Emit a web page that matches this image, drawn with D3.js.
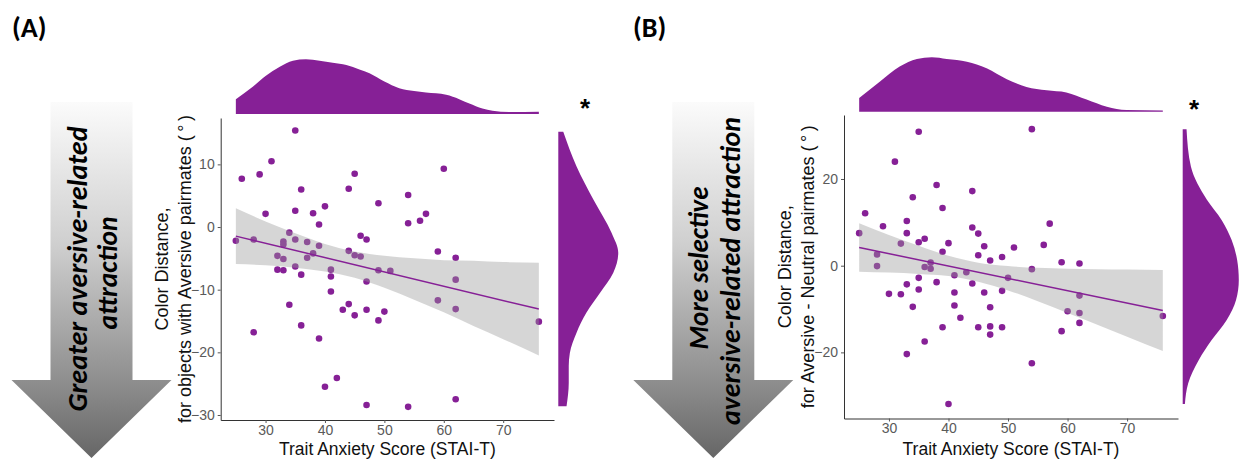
<!DOCTYPE html>
<html>
<head>
<meta charset="utf-8">
<script src="https://cdn.jsdelivr.net/npm/d3@7"></script>
<style>
  body { margin: 0; background: #fff; }
  svg { display: block; }
</style>
</head>
<body>
<div id="chart"></div>
<script>
// tick labels
const xTicks = [30, 40, 50, 60, 70];
const yTicksA = [-30, -20, -10, 0, 10];
const yTicksB = [-20, 0, 20];

// (A) trait anxiety vs colour distance for aversive pairmates
const anxietyA = [25, 26, 28, 28, 29, 30, 31, 32, 32, 33, 33, 33, 33, 34, 34, 35, 35, 35, 35, 36, 36, 36, 37, 37, 38, 38, 39, 39, 39, 40, 40, 41, 41, 41, 42, 43, 44, 44, 44, 45, 45, 45, 46, 46, 47, 47, 47, 47, 49, 49, 49, 50, 51, 54, 54, 54, 56, 57, 59, 59, 60, 62, 62, 62, 62, 76];
const distA = [-2.2, 7.7, -2.0, -16.8, 8.4, 2.1, 10.5, -4.6, -6.8, -2.3, -2.8, -5.1, -6.9, -0.9, -12.4, 15.4, 2.6, -2.0, -6.3, 6.0, -7.6, -15.7, -2.4, -4.9, 2.2, -4.2, 0.4, -3.0, -17.8, 3.3, -25.5, -6.8, -7.9, -10.3, -24.1, -13.2, 6.1, -3.8, -12.3, 8.5, -4.5, -14.1, -1.4, -4.7, -2.0, -8.7, -13.2, -28.4, 3.8, -6.9, -14.9, -13.5, -7.0, 5.1, 0.6, -28.7, 1.0, 2.1, -3.9, -11.7, 9.3, -4.9, -8.4, -13.1, -27.5, -15.1];

// (B) trait anxiety vs aversive - neutral colour distance
const anxietyB = [25, 26, 28, 28, 29, 30, 31, 32, 32, 33, 33, 33, 33, 34, 34, 35, 35, 35, 35, 36, 36, 36, 37, 37, 38, 38, 39, 39, 39, 40, 40, 41, 41, 41, 42, 43, 44, 44, 44, 45, 45, 45, 46, 46, 47, 47, 47, 47, 49, 49, 49, 50, 51, 54, 54, 54, 56, 57, 59, 59, 60, 62, 62, 62, 62, 76];
const distB = [7.5, 12.1, 2.6, -0.1, 9.1, -6.5, 24.0, 5.1, -6.6, 10.3, 7.5, -4.3, -20.4, 15.8, -9.5, 30.9, 5.4, -2.8, -5.5, 6.2, -0.3, -17.5, 0.7, -0.7, 18.6, -3.8, 13.3, 3.2, -14.2, 5.2, -31.9, -2.2, -6.2, -9.2, -12.0, -1.5, 17.2, 8.8, -4.1, 7.4, 2.4, -14.2, 4.5, -6.2, 1.2, -9.6, -14.0, -15.9, 2.0, -5.8, -14.2, -2.8, 4.2, 31.5, -0.8, -22.5, 4.8, 9.7, 0.8, -15.1, -10.5, 0.5, -6.9, -10.9, -13.2, -11.6];

// linear fit and 95% band
const fitX = [25, 76];
const fitA = [-1.45, -13.1];
const fitB = [4.2, -10.35];
const bandX = [25, 30, 35, 40, 45, 50, 55, 60, 65, 70, 76];
const bandHiA = [3.0, 0.9, -1.0, -2.7, -3.9, -4.6, -5.0, -5.3, -5.4, -5.6, -5.7];
const bandLoA = [-5.9, -6.1, -6.5, -7.1, -8.1, -9.7, -11.6, -13.6, -15.8, -17.9, -20.5];
const bandHiB = [9.8, 7.1, 4.6, 2.3, 0.7, -0.1, -0.5, -0.7, -0.8, -0.9, -1.0];
const bandLoB = [-1.4, -1.6, -1.9, -2.4, -3.7, -5.7, -8.2, -10.9, -13.6, -16.4, -19.7];

// marginal densities (relative height)
const topDensXA = [25, 27.9, 30, 32.4, 34.6, 36.8, 39.1, 41.3, 43.6, 45.8, 47.5, 50, 52.5, 55, 57, 60.4, 62.6, 64.3, 66.5, 68.2, 71, 76];
const topDensA = [0.27, 0.50, 0.69, 0.86, 0.97, 0.995, 0.97, 0.93, 0.89, 0.81, 0.74, 0.59, 0.47, 0.42, 0.39, 0.35, 0.27, 0.19, 0.10, 0.06, 0.036, 0.042];
const topDensXB = [25, 28.5, 31.8, 34.7, 37.2, 39.7, 43.1, 46.4, 49.8, 53.1, 56.5, 59.8, 63.2, 66.6, 69.9, 76];
const topDensB = [0.25, 0.55, 0.82, 0.96, 0.99, 0.96, 0.91, 0.79, 0.59, 0.45, 0.39, 0.35, 0.22, 0.09, 0.03, 0.024];
const sideDensYA = [15.2, 9.7, 4.35, -0.96, -4.1, -7.3, -10.5, -13.7, -16.9, -20.1, -22.2, -24.9, -28.6];
const sideDensA = [0.09, 0.33, 0.64, 0.97, 1.09, 1.0, 0.76, 0.51, 0.33, 0.21, 0.19, 0.19, 0.15];
const sideDensYB = [31.5, 22.8, 15.2, 10.5, 5.9, 1.3, -3.3, -7.9, -12.5, -17.1, -21.8, -27.1, -31.9];
const sideDensB = [0.07, 0.15, 0.44, 0.71, 0.89, 0.99, 1.02, 0.97, 0.80, 0.53, 0.29, 0.10, 0.04];

const purple = '#862096';
const W = 1239, H = 459;

const svg = d3.select('#chart').append('svg')
  .attr('width', W).attr('height', H)
  .style('font-family', '"Liberation Sans", Arial, sans-serif');

svg.append('rect').attr('width', W).attr('height', H).attr('fill', '#fff');

const defs = svg.append('defs');
const grad = defs.append('linearGradient')
  .attr('id', 'arrowGrad')
  .attr('x1', 0).attr('y1', 0).attr('x2', 0).attr('y2', 1);
grad.append('stop').attr('offset', 0).attr('stop-color', '#fbfbfb');
grad.append('stop').attr('offset', 0.4).attr('stop-color', '#cfcfcf');
grad.append('stop').attr('offset', 0.78).attr('stop-color', '#8f8f8f');
grad.append('stop').attr('offset', 1).attr('stop-color', '#666');

function drawArrow(cx, lines) {
  const top = 102, neck = 380, tip = 458, sw = 41, hw = 80;
  svg.append('path')
    .attr('d', `M${cx - sw},${top}H${cx + sw}V${neck}H${cx + hw}L${cx},${tip}L${cx - hw},${neck}H${cx - sw}Z`)
    .attr('fill', 'url(#arrowGrad)');
  lines.forEach(l => {
    svg.append('text')
      .attr('transform', `translate(${l.x},${l.y}) rotate(-90)`)
      .attr('text-anchor', 'middle')
      .attr('textLength', l.len)
      .attr('lengthAdjust', 'spacingAndGlyphs')
      .style('font-family', 'Carlito, Lato, "Open Sans", sans-serif')
      .style('font-weight', 'bold')
      .style('font-style', 'italic')
      .style('font-size', '28px')
      .attr('fill', '#000')
      .text(l.text);
  });
}

function drawPanel(p) {
  const x = d3.scaleLinear().domain([22.45, 78.55]).range([p.left, p.right]);
  const y = d3.scaleLinear().domain(p.yDomain).range([p.bottom, p.top]);
  const pts = p.xs.map((v, i) => [v, p.ys[i]]);

  // marginal densities
  const h = d3.scaleLinear().domain([0, 1]).range([0, 55]);
  const topData = p.topX.map((v, i) => [v, p.topD[i]]);
  svg.append('path')
    .datum(topData)
    .attr('fill', purple)
    .attr('d', d3.area().curve(d3.curveMonotoneX)
      .x(d => x(d[0])).y0(p.topBase).y1(d => p.topBase - h(d[1])));
  const sideData = p.sideY.map((v, i) => [v, p.sideD[i]]);
  svg.append('path')
    .datum(sideData)
    .attr('fill', purple)
    .attr('d', d3.area().curve(d3.curveMonotoneY)
      .y(d => y(d[0])).x0(p.sideBase).x1(d => p.sideBase + h(d[1])));

  // points
  svg.append('g').selectAll('circle')
    .data(pts)
    .enter()
    .append('circle')
    .attr('cx', d => x(d[0]))
    .attr('cy', d => y(d[1]))
    .attr('r', 3.3)
    .attr('fill', purple);

  // confidence band over the points, as geom_smooth does
  const band = bandX.map((v, i) => [v, p.bandHi[i], p.bandLo[i]]);
  svg.append('path')
    .datum(band)
    .attr('fill', '#999')
    .attr('fill-opacity', 0.4)
    .attr('d', d3.area().curve(d3.curveMonotoneX)
      .x(d => x(d[0])).y0(d => y(d[2])).y1(d => y(d[1])));
  svg.append('path')
    .datum(fitX.map((v, i) => [v, p.fit[i]]))
    .attr('fill', 'none')
    .attr('stroke', purple)
    .attr('stroke-width', 1.5)
    .attr('d', d3.line().x(d => x(d[0])).y(d => y(d[1])));

  // axes
  const gx = svg.append('g')
    .attr('transform', `translate(0,${p.bottom})`)
    .call(d3.axisBottom(x).tickValues(xTicks).tickSize(3).tickSizeOuter(0).tickPadding(2));
  const gy = svg.append('g')
    .attr('transform', `translate(${p.left},0)`)
    .call(d3.axisLeft(y).tickValues(p.yTicks).tickSize(3).tickSizeOuter(0).tickPadding(3));
  [gx, gy].forEach(g => {
    g.select('.domain').attr('stroke', '#333').attr('stroke-width', 1);
    g.selectAll('.tick line').attr('stroke', '#555');
    g.selectAll('.tick text')
      .attr('fill', '#5a5a5a')
      .style('font-size', '14px')
      .style('font-family', '"Liberation Sans", Arial, sans-serif');
  });

  // axis titles
  svg.append('text')
    .attr('x', (p.left + p.right) / 2)
    .attr('y', 454.5)
    .attr('text-anchor', 'middle')
    .style('font-size', '17.5px')
    .attr('fill', '#111')
    .text('Trait Anxiety Score (STAI-T)');
  const cy = (p.top + p.bottom) / 2;
  p.yTitle.forEach((t, i) => {
    svg.append('text')
      .attr('transform', `translate(${p.left - (i === 0 ? 53 : 30)},${cy}) rotate(-90)`)
      .attr('text-anchor', 'middle')
      .style('font-size', '18px')
      .attr('fill', '#111')
      .text(t);
  });

  // significance star
  svg.append('text')
    .attr('x', p.star[0]).attr('y', p.star[1])
    .attr('text-anchor', 'middle')
    .style('font-size', '26px')
    .style('font-weight', 'bold')
    .attr('fill', '#000')
    .text('*');

  // panel label
  svg.append('text')
    .attr('x', p.label[0]).attr('y', 37)
    .style('font-family', 'Carlito, Lato, "Open Sans", sans-serif')
    .style('font-weight', 'bold')
    .style('font-size', '28px')
    .attr('fill', '#000')
    .text(p.label[1]);
}

drawArrow(91.5, [
  {x: 87, y: 269, len: 285, text: 'Greater aversive-related'},
  {x: 117, y: 273, len: 113, text: 'attraction'}
]);
drawArrow(713.3, [
  {x: 708, y: 268, len: 163, text: 'More selective'},
  {x: 740, y: 271, len: 308, text: 'aversive-related attraction'}
]);

drawPanel({
  left: 220.7, right: 554, top: 118, bottom: 420,
  yDomain: [-30.8, 17.4], yTicks: yTicksA,
  xs: anxietyA, ys: distA, fit: fitA, bandHi: bandHiA, bandLo: bandLoA,
  topX: topDensXA, topD: topDensA, topBase: 114,
  sideY: sideDensYA, sideD: sideDensA, sideBase: 558.3,
  yTitle: ['Color Distance,', 'for objects with Aversive pairmates (\u2009°\u2009)'],
  star: [585, 117], label: [12, '(A)']
});
drawPanel({
  left: 844, right: 1178, top: 115, bottom: 418.5,
  yDomain: [-35.25, 34.76], yTicks: yTicksB,
  xs: anxietyB, ys: distB, fit: fitB, bandHi: bandHiB, bandLo: bandLoB,
  topX: topDensXB, topD: topDensB, topBase: 111.7,
  sideY: sideDensYB, sideD: sideDensB, sideBase: 1182.7,
  yTitle: ['Color Distance,', 'for Aversive - Neutral pairmates (\u2009°\u2009)'],
  star: [1194, 118], label: [633, '(B)']
});
</script>
</body>
</html>
